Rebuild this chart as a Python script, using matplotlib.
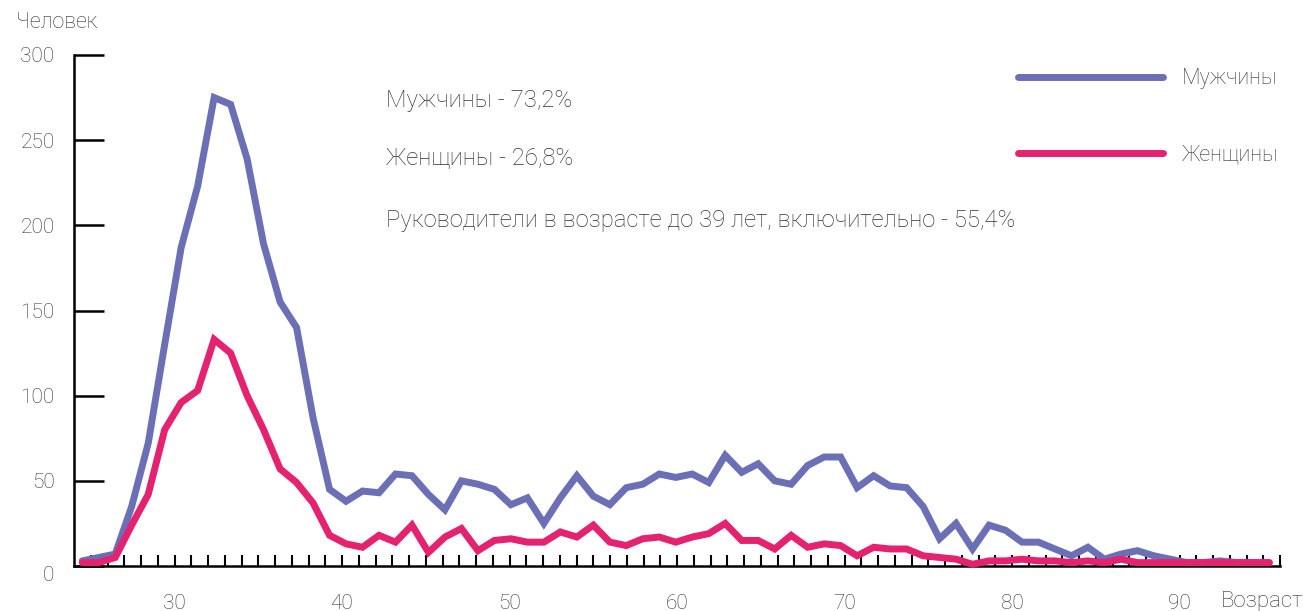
import matplotlib
matplotlib.use("Agg")
import matplotlib.pyplot as plt
from matplotlib.ticker import FixedLocator, FuncFormatter

plt.rcParams['font.family'] = ['Roboto', 'DejaVu Sans']
plt.rcParams['font.weight'] = 'light'

# возраст (лет), по одной точке на год
ages = list(range(24, 97))

men = [3, 5, 7, 35, 72, 130, 187, 223, 275, 271, 239, 189, 155, 140, 87, 45,
       38, 44, 43, 54, 53, 42, 33, 50, 48, 45, 36, 40, 25, 40, 53, 41, 36, 46, 48,
       54, 52, 54, 49, 65, 55, 60, 50, 48, 59, 64, 64, 46, 53, 47, 46, 35, 16, 25, 10,
       24, 21, 14, 14, 10, 6, 11, 4, 7, 9, 6, 4, 2, 2, 3, 2, 2, 2]

women = [2, 2, 5, 24, 42, 80, 96, 103, 133, 125, 100, 80, 57, 49, 37, 18,
         13, 11, 18, 14, 24, 8, 17, 22, 9, 15, 16, 14, 14, 20, 17, 24, 14, 12, 16,
         17, 14, 17, 19, 25, 15, 15, 10, 18, 11, 13, 12, 6, 11, 10, 10, 6, 5, 4, 1,
         3, 3, 4, 3, 3, 2, 3, 2, 4, 2, 2, 2, 2, 2, 2, 2, 2, 2]

x_labels = [30, 40, 50, 60, 70, 80, 90]
y_ticks = [0, 50, 100, 150, 200, 250, 300]

notes = ["Мужчины - 73,2%",
         "Женщины - 26,8%",
         "Руководители в возрасте до 39 лет, включительно - 55,4%"]

col_men = "#6B6FB5"
col_women = "#E4226F"
txt = "#333333"

fig = plt.figure(figsize=(13.03, 6.11), dpi=100)
ax = fig.add_axes([74 / 1303, 45 / 611, 1206 / 1303, 511 / 611])

# === ось возраста (деления каждый год) ===
ax.set_xlim(24, 96)
ax.set_ylim(0, 300)
ax.xaxis.set_major_locator(FixedLocator(list(range(25, 97))))
ax.xaxis.set_major_formatter(FuncFormatter(lambda v, p: str(int(round(v))) if int(round(v)) in x_labels else ""))
ax.set_yticks(y_ticks)
ax.tick_params(axis="x", direction="in", length=8, width=1.5, color="black",
               labelsize=15, labelcolor=txt, pad=20)
ax.tick_params(axis="y", direction="in", length=21.6, width=1.8, color="black",
               labelsize=15, labelcolor=txt, pad=14)
for s in ["top", "right"]:
    ax.spines[s].set_visible(False)
for s in ["left", "bottom"]:
    ax.spines[s].set_linewidth(1.8)
    ax.spines[s].set_color("black")
ax.get_yticklabels()[0].set_verticalalignment("top")

# === данные ===
axd = ax.twiny()
axd.set_xlim(23.5, 96.65)
axd.set_ylim(0, 300)
axd.set_axis_off()
axd.plot(ages, men, color=col_men, lw=5, label="Мужчины", clip_on=False,
         solid_joinstyle="miter", solid_capstyle="round")
axd.plot(ages, women, color=col_women, lw=5, label="Женщины", clip_on=False,
         solid_joinstyle="miter", solid_capstyle="round")

leg = axd.legend(loc="center left", bbox_to_anchor=(1017.5 / 1303, 1 - 117 / 611),
                 bbox_transform=fig.transFigure, frameon=False, fontsize=15.5,
                 handlelength=6.75, handletextpad=0.9, labelspacing=2.56,
                 borderpad=0, borderaxespad=0)
for t in leg.get_texts():
    t.set_color(txt)

fig.text(16 / 1303, 1 - 22 / 611, "Человек", fontsize=15.5, color=txt, va="center", ha="left")
fig.text(1221 / 1303, 1 - 602 / 611, "Возраст", fontsize=16, color=txt, va="center", ha="left")

for note, yy in zip(notes, [101, 158, 220]):
    fig.text(386 / 1303, 1 - yy / 611, note, fontsize=17.2, color=txt, va="center", ha="left")

fig.savefig("out.png", dpi=100)
